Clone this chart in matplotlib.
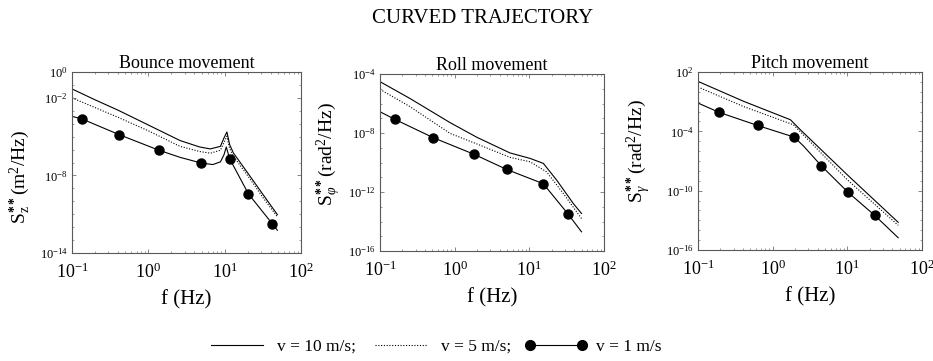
import numpy as np
import matplotlib
matplotlib.use("Agg")
import matplotlib.pyplot as plt
from matplotlib.lines import Line2D
from matplotlib.ticker import FixedLocator, NullFormatter, LogLocator

plt.rcParams['font.family'] = ['Liberation Serif', 'DejaVu Serif']
plt.rcParams['mathtext.fontset'] = 'custom'
plt.rcParams['mathtext.rm'] = 'Liberation Serif'
plt.rcParams['mathtext.it'] = 'Liberation Serif:italic'
plt.rcParams['mathtext.bf'] = 'Liberation Serif:bold'

# ---------------- data (log10 of PSD values) ----------------
# Bounce
bounce_f10 = [0.1, 0.2, 0.4, 1.0, 2.6, 4.7, 6.5, 8.8, 9.8, 10.7, 11.6, 13.0, 20.5, 32.0, 49.0]
bounce_s10 = [-1.31, -2.15, -2.95, -4.1, -5.3, -5.8, -5.95, -5.75, -5.1, -4.64, -5.6, -6.26, -7.89, -9.5, -11.03]
bounce_f5 = [0.1, 0.2, 0.4, 1.0, 2.6, 4.7, 6.5, 8.8, 9.8, 10.7, 11.6, 13.0, 20.5, 32.0, 49.0]
bounce_s5 = [-2.0, -2.75, -3.5, -4.55, -5.75, -6.15, -6.28, -6.05, -5.45, -4.97, -5.9, -6.52, -8.1, -9.74, -11.2]
bounce_f1 = [0.1, 0.135, 0.416, 1.39, 2.6, 4.92, 7.0, 8.8, 9.8, 10.5, 11.6, 20.5, 42.2, 49.0]
bounce_s1 = [-3.43, -3.63, -4.85, -6.06, -6.6, -7.04, -7.16, -6.95, -6.4, -5.8, -6.70, -9.43, -11.75, -12.24]
bounce_mf = [0.135, 0.416, 1.39, 4.92, 11.6, 20.5, 42.2]
bounce_ms = [-3.63, -4.85, -6.06, -7.04, -6.70, -9.43, -11.75]

# Roll
roll_f10 = [0.1, 0.25, 0.87, 2.0, 5.5, 10.2, 15.4, 23.2, 38.8, 50.0]
roll_s10 = [-4.52, -5.65, -7.3, -8.3, -9.35, -9.72, -10.06, -11.19, -12.78, -13.46]
roll_f5 = [0.1, 0.25, 0.87, 2.0, 5.5, 10.2, 17.0, 28.5, 50.0]
roll_s5 = [-5.04, -6.2, -8.03, -8.75, -9.65, -9.95, -10.63, -12.1, -13.8]
roll_f1 = [0.1, 0.159, 0.518, 1.83, 4.97, 15.4, 33.3, 50.0]
roll_s1 = [-6.56, -7.08, -8.32, -9.45, -10.47, -11.44, -13.52, -14.70]
roll_mf = [0.159, 0.518, 1.83, 4.97, 15.4, 33.3]
roll_ms = [-7.08, -8.32, -9.45, -10.47, -11.44, -13.52]

# Pitch
pitch_f10 = [0.1, 0.41, 1.73, 2.35, 10.0, 48.0]
pitch_s10 = [1.05, -0.97, -2.83, -3.84, -8.4, -13.2]
pitch_f5 = [0.1, 0.41, 1.9, 10.0, 48.0]
pitch_s5 = [0.48, -1.5, -3.34, -8.9, -13.5]
pitch_f1 = [0.1, 0.193, 0.63, 1.95, 2.6, 4.49, 10.2, 23.2, 48.0]
pitch_s1 = [-1.14, -2.09, -3.41, -4.59, -5.5, -7.49, -10.16, -12.49, -14.76]
pitch_mf = [0.193, 0.63, 1.95, 4.49, 10.2, 23.2]
pitch_ms = [-2.09, -3.41, -4.59, -7.49, -10.16, -12.49]

titles = ["Bounce movement", "Roll movement", "Pitch movement"]
ylabels = [r"S$_{\mathrm{z}}^{\bf{**}}$(m$^2$/Hz)",
           r"S$_{\varphi}^{\bf{**}}$(rad$^2$/Hz)",
           r"S$_{\gamma}^{\bf{**}}$(rad$^2$/Hz)"]
ytick_exps = [[0, -2, -8, -14], [-4, -8, -12, -16], [2, -4, -10, -16]]
ylims = [(-14, 0), (-16, -4), (-16, 2)]
xtick_exps = [-1, 0, 1, 2]
legend_labels = ["v = 10 m/s;", "v = 5 m/s;", "v = 1 m/s"]

panels = [
    (bounce_f10, bounce_s10, bounce_f5, bounce_s5, bounce_f1, bounce_s1, bounce_mf, bounce_ms),
    (roll_f10, roll_s10, roll_f5, roll_s5, roll_f1, roll_s1, roll_mf, roll_ms),
    (pitch_f10, pitch_s10, pitch_f5, pitch_s5, pitch_f1, pitch_s1, pitch_mf, pitch_ms),
]

positions = [
    [72 / 933, 1 - 253 / 361, 229 / 933, 181 / 361],
    [380 / 933, 1 - 251 / 361, 224 / 933, 177 / 361],
    [698 / 933, 1 - 250 / 361, 224 / 933, 178 / 361],
]
ylabel_coords = [(-0.17, 0.42), (-0.165, 0.55), (-0.2, 0.555)]

fig = plt.figure(figsize=(9.33, 3.61), dpi=100)

for i, (f10, s10, f5, s5, f1, s1, mf, ms) in enumerate(panels):
    ax = fig.add_axes(positions[i])
    ax.plot(f10, np.power(10.0, s10), color='black', lw=0.8, ls='-')
    ax.plot(f5, np.power(10.0, s5), color='black', lw=0.8, ls=(0, (1, 1.5)))
    ax.plot(f1, np.power(10.0, s1), color='black', lw=0.8, ls='-')
    ax.plot(mf, np.power(10.0, ms), ls='none', marker='o', ms=6.5, color='black')
    ax.set_xscale('log')
    ax.set_yscale('log')
    ax.set_xlim(0.1, 100)
    lo, hi = ylims[i]
    ax.set_ylim(10.0 ** lo, 10.0 ** hi)
    ax.xaxis.set_major_locator(FixedLocator([10.0 ** e for e in xtick_exps]))
    ax.set_xticklabels([r"$10^{%d}$" % e for e in xtick_exps], fontsize=13)
    ax.xaxis.set_minor_locator(LogLocator(base=10, subs=np.arange(2, 10)))
    ax.xaxis.set_minor_formatter(NullFormatter())
    ax.yaxis.set_major_locator(FixedLocator([10.0 ** e for e in ytick_exps[i]]))
    ax.set_yticklabels([r"$10^{%d}$" % e for e in ytick_exps[i]], fontsize=9)
    ax.yaxis.set_minor_locator(FixedLocator([10.0 ** e for e in range(lo, hi + 1)]))
    ax.yaxis.set_minor_formatter(NullFormatter())
    ax.tick_params(which='both', direction='in', top=True, right=True, color='0.45')
    ax.tick_params(which='major', length=3, width=0.6)
    ax.tick_params(axis='x', which='major', pad=7)
    ax.tick_params(axis='y', which='major', pad=3)
    ax.tick_params(which='minor', length=1.5, width=0.5)
    for sp in ax.spines.values():
        sp.set_color('0.35')
        sp.set_linewidth(0.8)
    ax.set_title(titles[i], fontsize=13, pad=3)
    ax.set_xlabel("f (Hz)", fontsize=15, labelpad=6)
    ax.set_ylabel(ylabels[i], fontsize=14)
    ax.yaxis.set_label_coords(*ylabel_coords[i])

fig.text(0.517, 0.95, "CURVED TRAJECTORY", ha='center', va='center', fontsize=15)

handles = [
    Line2D([], [], color='black', lw=0.8, ls='-'),
    Line2D([], [], color='black', lw=0.8, ls=(0, (1, 1.5))),
    Line2D([], [], color='black', lw=0.8, ls='-', marker='o', ms=7),
]
fig.legend(handles, legend_labels, loc='center', bbox_to_anchor=(0.465, 0.04),
           ncol=3, frameon=False, fontsize=12.5, handlelength=3.6, numpoints=2,
           columnspacing=0.8, handletextpad=0.5)

fig.savefig("out.png", dpi=100)
